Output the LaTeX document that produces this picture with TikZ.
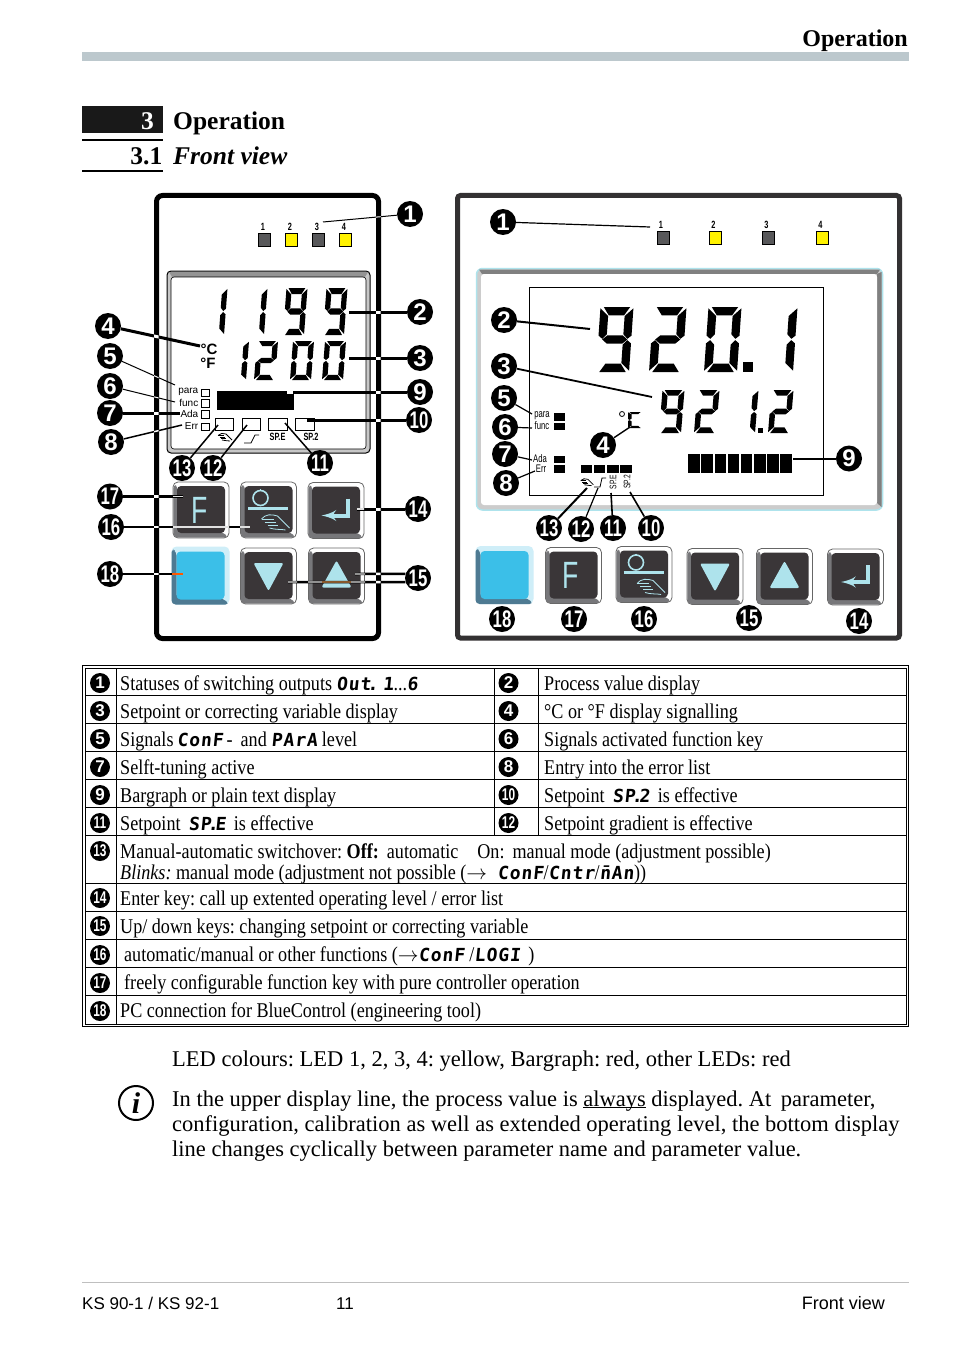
\documentclass[tikz,border=0pt]{standalone}
\usepackage{fontspec}
\setmainfont{Liberation Serif}
\setsansfont{Liberation Sans}
\newfontfamily\condfont[FakeStretch=0.863]{Liberation Serif}
\newfontfamily\narrowsans[FakeStretch=0.7]{Liberation Sans}
\newfontfamily\segfont[FakeSlant=0.1,LetterSpace=5]{DejaVu Sans Mono}
\usetikzlibrary{arrows}
\frenchspacing

\definecolor{barcol}{HTML}{BCC8CD}
\definecolor{ledgray}{HTML}{58585A}
\definecolor{ledyellow}{HTML}{FFF200}
\definecolor{facecol}{HTML}{3A3638}
\definecolor{bevelcol}{HTML}{77777A}
\definecolor{glyphcol}{HTML}{AEE3EC}
\definecolor{bluecol}{HTML}{3BBFE8}
\definecolor{bluelight}{HTML}{CFEEF8}
\definecolor{bluedark}{HTML}{4E7A92}
\definecolor{framecol}{HTML}{333132}

\newcommand{\calltext}[1]{\ifnum#1>9 {\narrowsans\bfseries #1}\else{\sffamily\bfseries #1}\fi}
\newcommand{\seg}[1]{{\segfont\bfseries\fontsize{18}{18}\selectfont #1}}
\newcommand{\segdot}{\kern-3.5pt.\kern-3.5pt}

% lcd segments, unit cell
\newcommand{\sega}{\fill (.10,1)--(.90,1)--(.73,.87)--(.27,.87)--cycle;}
\newcommand{\segb}{\fill (1,.98)--(1,.56)--(.88,.51)--(.75,.58)--(.75,.86)--cycle;}
\newcommand{\segc}{\fill (1,.44)--(1,.02)--(.75,.14)--(.75,.42)--(.88,.49)--cycle;}
\newcommand{\segd}{\fill (.10,0)--(.90,0)--(.73,.13)--(.27,.13)--cycle;}
\newcommand{\sege}{\fill (0,.44)--(0,.02)--(.25,.14)--(.25,.42)--(.12,.49)--cycle;}
\newcommand{\segf}{\fill (0,.98)--(0,.56)--(.12,.51)--(.25,.58)--(.25,.86)--cycle;}
\newcommand{\segg}{\fill (.12,.5)--(.27,.565)--(.73,.565)--(.88,.5)--(.73,.435)--(.27,.435)--cycle;}
\newcommand{\lcddigit}[6]{%
  \begin{scope}[shift={(#1,#2)},x={(#3pt,0pt)},y={(#5pt,#4pt)}]
    \edef\seglist{#6}
    \foreach \s in \seglist {\csname seg\s\endcsname}
  \end{scope}}
\newcommand{\handicon}[4]{%
  \begin{scope}[shift={(#1,#2)},scale=#3,draw=#4,line width=.8]
    \draw (-14,-3) .. controls (-10,-8) and (-4,-8) .. (2,-6) -- (14,6);
    \draw (-14,-3) -- (-2,-3);
    \draw (-11,0) -- (0,0);
    \draw (-8,3) -- (2,3);
    \draw (-6,6) .. controls (0,8) and (6,7) .. (10,8);
  \end{scope}}
\newcommand{\leftleads}[1]{%
  \foreach \n/\w in {1/1,2/3,3/3,4/3,5/1,6/1,7/3,8/1.5,9/3,10/3,11/1.5,12/1.5,13/1.5,14/3,16/2.5,17/2.5,18/2.5}
    {\draw[lead,line width=\w,#1] (l\n) -- (le\n);}
  \draw[lead,line width=2.5,#1] (l15.162) -- (le15);
  \draw[lead,line width=2.5,#1] (l15.198) -- (le19);}

\begin{document}
\begin{tikzpicture}[x=1pt,y=-1pt]

\tikzset{callout/.style = {circle,fill=black,text=white,inner sep=0,minimum size=26,font=\fontsize{24}{24}\selectfont}}
\tikzset{tabmark/.style = {circle,fill=black,text=white,inner sep=0,minimum size=20,font=\fontsize{17}{17}\selectfont}}
\tikzset{lead/.style = {draw=black,line cap=butt}}
\tikzset{led/.style = {draw=black,line width=.8,minimum width=12,minimum height=13,inner sep=0}}
\tikzset{ledtext/.style = {inner sep=0,font=\narrowsans\bfseries\fontsize{10.5}{10.5}\selectfont}}
\tikzset{lcdtext/.style = {inner sep=0,font=\sffamily\fontsize{10}{10}\selectfont}}
\tikzset{smallbox/.style = {draw=black,line width=.8,fill=white,inner sep=0}}
\tikzset{glyph/.style = {draw=glyphcol,line width=1.6}}
\tikzset{keyf/.style = {inner sep=0,text=glyphcol,font=\narrowsans\fontsize{38}{38}\selectfont}}
\tikzset{tabcell/.style = {anchor=base west,inner sep=0,font=\condfont\fontsize{21}{21}\selectfont}}
\tikzset{headtext/.style = {anchor=base west,inner sep=0,font=\bfseries\fontsize{25.5}{25.5}\selectfont}}
\tikzset{bodytext/.style = {anchor=base west,inner sep=0,align=left,font=\fontsize{22.5}{25}\selectfont}}
\tikzset{foottext/.style = {anchor=base west,inner sep=0,font=\sffamily\fontsize{17}{17}\selectfont}}
\tikzset{rule/.style = {line width=.8,draw=black}}
\tikzset{keycap/.pic = {
  \draw[draw=black!60,line width=.8,fill=white,rounded corners=5] (-28,-28) rectangle (28,28);
  \fill[bevelcol,rounded corners=4] (-27.6,-26) -- (-27.6,27.6) -- (27.6,27.6) -- (22,22) -- (-23,22) -- (-23,-23) -- cycle;
  \fill[facecol,rounded corners=4] (-24,-24) rectangle (24,23);
}}
\tikzset{bluecap/.pic = {
  \fill[bluelight,rounded corners=5] (-29,-29) rectangle (29,29);
  \fill[bluedark,rounded corners=4] (-29,-27) -- (-29,29) -- (29,29) -- (23,23) -- (-24,23) -- (-24,-24) -- cycle;
  \fill[bluecol,rounded corners=4] (-24,-24) rectangle (24,24);
}}
\tikzset{modeglyph/.pic = {
  \draw[glyph] (-8,-12) circle (7.5);
  \draw[glyph] (-8,-21) -- (-8,-19);
  \draw[glyph,line width=3] (-20.5,-2) -- (19.5,-2);
  \handicon{7}{12}{1}{glyphcol}
}}
\tikzset{downglyph/.pic = {
  \fill[glyphcol,rounded corners=2] (-15,-13) -- (15,-13) -- (0,15) -- cycle;
}}
\tikzset{upglyph/.pic = {
  \fill[glyphcol,rounded corners=2] (0,-15.5) -- (15,11.5) -- (-15,11.5) -- cycle;
}}
\tikzset{enterglyph/.pic = {
  \draw[glyph,line width=4,->,> = latex'] (12,-12) |- (-14.5,5);
}}

\useasboundingbox (0,0) rectangle (954,1351);
\fill[white] (0,0) rectangle (954,1351);

%header
\fill[barcol] (82,52) rectangle (909,61);
\node[headtext,anchor=base east,font=\bfseries\fontsize{24}{24}\selectfont] (title) at (908,46.5) {Operation};
\fill[black!90] (82,106) rectangle (163,133);
\node[headtext,anchor=base east,text=white] (secnum) at (154,130) {3};
\node[headtext] (sectitle) at (173,130) {Operation};
\draw[line width=2] (82,140) -- (163,140);
\node[headtext,anchor=base east] (subnum) at (162.5,165) {3.1};
\node[headtext,font=\bfseries\itshape\fontsize{25.5}{25.5}\selectfont] (subtitle) at (173,165) {Front view};
\draw[line width=2] (82,171) -- (163,171);

%left panel
\draw[line width=5,rounded corners=6] (156.5,195.5) rectangle (378.5,638.5);
\foreach \n/\x/\c in {1/264/ledgray,2/291/ledyellow,3/318/ledgray,4/345/ledyellow}
  {\node[led,fill=\c] (lled\n) at (\x,239.5) {};
   \node[ledtext] (lnum\n) at (\x-1,227) {\n};}
\draw[draw=black,line width=1,fill=black!22,rounded corners=4] (167,271) rectangle (370,453);
\fill[black!42] (169,272) -- (368,272) -- (365,277) -- (172,277) -- cycle;
\draw[draw=black,line width=.6,fill=white,rounded corners=3] (171,277) rectangle (366,449);
\foreach \x/\d in {203/{b,c},243/{b,c},283/{a,b,c,d,f,g},323/{a,b,c,d,f,g}}
  {\lcddigit{\x}{335}{21}{47}{3.5}{\d}}
\foreach \x/\d in {225/{b,c},254/{a,b,g,e,d},290/{a,b,c,d,e,f},322/{a,b,c,d,e,f}}
  {\lcddigit{\x}{380}{21}{39}{3}{\d}}
\node[inner sep=0,font=\sffamily\bfseries\fontsize{15}{15}\selectfont] (lgradc) at (209,349) {°C};
\node[inner sep=0,font=\sffamily\bfseries\fontsize{15}{15}\selectfont] (lgradf) at (208,363) {°F};
\foreach \n/\t/\y/\ys in {a/para/392/393,b/func/403/403.5,c/Ada/414/414.5,d/Err/426/427}
  {\node[lcdtext,anchor=east] (lt\n) at (198.5,\y) {\t};
   \node[smallbox,minimum width=8,minimum height=7.5] (ls\n) at (205,\ys) {};}
\fill (217,391) rectangle (294,410);
\foreach \n/\x in {a/224.5,b/251.5,c/278,d/305}
  {\node[smallbox,minimum width=18.5,minimum height=12.5] (lb\n) at (\x,424.5) {};}
\handicon{225}{437}{.5}{black}
\draw[line width=.8] (244,443) -- (251,443) -- (255,435) -- (259,435);
\node[ledtext] (lspe) at (277.5,437) {SP.E};
\node[ledtext] (lsp2) at (311,437) {SP.2};
%left keys
\pic at (201,510) {keycap};
\pic at (268.5,510) {keycap};
\pic at (336,510.5) {keycap};
\pic at (200.5,575.5) {bluecap};
\pic at (268.5,576) {keycap};
\pic at (336.5,576) {keycap};
\node[keyf] (lkeyf) at (199.5,510) {F};
\pic at (268.5,510) {modeglyph};
\pic at (336,510.5) {enterglyph};
\pic at (268.5,576) {downglyph};
\pic at (336.5,576) {upglyph};
%left callouts
\foreach \n/\x/\y in {1/410/214,2/420/312,3/420/358,4/108/326,5/110/356,6/110/386,7/110/413,8/111/442,9/420/392,10/419/420,11/320/463,12/213/468,13/182/468,14/418/509,15/418/578,16/111/527,17/110/496.5,18/110/574}
  {\node[callout] (l\n) at (\x,\y) {\calltext{\n}};}
\foreach \n/\x/\y in {1/323/222,2/349/312,3/349/358,4/200/346,5/175/385,6/175/402,7/180/413,8/182/425,9/287/392,10/307/420,11/285/423,12/247/425,13/218/425,14/357/509,15/355/574,16/250/527,17/183/496.5,18/183/574,19/288/582}
  {\coordinate (le\n) at (\x,\y);}
\leftleads{}
\begin{scope}
  \clip (154,190) rectangle (158.5,650) (376,190) rectangle (380.5,650);
  \leftleads{draw=white}
\end{scope}
\begin{scope}
  \clip (173,482) rectangle (229,538) (240,482) rectangle (297,538) (308,482) rectangle (364,538) (240,548) rectangle (297,604) (308,548) rectangle (365,604);
  \leftleads{draw=black!12,line width=1.3}
\end{scope}
\draw[line width=1.3,draw=brown!70!black] (322,582) -- (351,582);
\draw[line width=2,draw=orange!70!red] (172,574) -- (le18);
\draw[line width=3,draw=white] (le9) -- (293,392);

%right panel
\draw[line width=5,draw=framecol,rounded corners=3] (457.5,195.5) rectangle (899.5,638);
\foreach \n/\x/\c in {1/663/ledgray,2/715.5/ledyellow,3/768.5/ledgray,4/822.5/ledyellow}
  {\node[led,fill=\c] (rled\n) at (\x,237.5) {};
   \node[ledtext] (rnum\n) at (\x-2,224.5) {\n};}
\draw[draw=glyphcol,line width=1.5,fill=black!20,rounded corners=6] (476.5,268.5) rectangle (882.5,510);
\fill[black!50] (479,269.5) -- (880,269.5) -- (877,274) -- (482,274) -- cycle;
\fill[black!50] (881.5,272) -- (881.5,507) -- (877,503) -- (877,274) -- cycle;
\fill[white,rounded corners=3] (481,274) rectangle (877,505);
\draw[line width=.8] (529,287.5) rectangle (823,495);
\foreach \x/\d in {596/{a,b,c,d,f,g},649/{a,b,g,e,d},704/{a,b,c,d,e,f},760/{b,c}}
  {\lcddigit{\x}{372}{33}{65}{4.5}{\d}}
\fill (743,362) rectangle (753,372);
\foreach \x/\d in {659/{a,b,c,d,f,g},694/{a,b,g,e,d},733/{b,c},768/{a,b,g,e,d}}
  {\lcddigit{\x}{433}{22}{43}{3.5}{\d}}
\fill (758,428) rectangle (763,433);
\draw[line width=.8] (622,414) circle (2.5);
\lcddigit{628}{428}{14}{16}{0}{a,f,e,d}
\foreach \n/\t/\x/\y/\ys in {a/para/542/416/417,b/func/542/426/426.5,c/Ada/540/459/459.5,d/Err/541/469/469}
  {\node[lcdtext,font=\narrowsans\fontsize{11}{11}\selectfont] (rt\n) at (\x,\y) {\t};
   \node[fill=black,inner sep=0,minimum width=11,minimum height=7.5] (rs\n) at (559.5,\ys) {};}
\foreach \n/\x in {a/586.5,b/599.5,c/613,d/626}
  {\node[fill=black,inner sep=0,minimum width=11.5,minimum height=7.5] (rb\n) at (\x,469) {};}
\foreach \n/\x in {1/694,2/707,3/720.5,4/733.5,5/746.5,6/760,7/773,8/786}
  {\node[fill=black,inner sep=0,minimum width=11.8,minimum height=19] (rbar\n) at (\x,463.5) {};}
\handicon{587}{482}{.45}{black}
\draw[line width=.8] (594,487) -- (600,487) -- (602,478) -- (606,478);
\node[lcdtext,rotate=90,font=\narrowsans\fontsize{9.5}{9.5}\selectfont] (rspe) at (613,482) {SP.E};
\node[lcdtext,rotate=90,font=\narrowsans\fontsize{9.5}{9.5}\selectfont] (rsp2) at (627,482) {SP.2};
%right keys
\pic at (504.5,575) {bluecap};
\pic at (573.5,575.5) {keycap};
\pic at (644,574.5) {keycap};
\pic at (715,576.5) {keycap};
\pic at (784.5,576.5) {keycap};
\pic at (855.5,577) {keycap};
\node[keyf] (rkeyf) at (571,575.5) {F};
\pic at (644,574.5) {modeglyph};
\pic at (715,576.5) {downglyph};
\pic at (784.5,576.5) {upglyph};
\pic at (855.5,577) {enterglyph};
%right callouts
\foreach \n/\x/\y in {1/503/222,2/504/320,3/504/366,4/603/445,5/504/398,6/505/427,7/505/454,8/506/483,9/849/458.5,10/651/528,11/613/528,12/581/529,13/549/528,14/859/621,15/749/618,16/644/619,17/574/619,18/502/619}
  {\node[callout] (r\n) at (\x,\y) {\calltext{\n}};}
\foreach \n/\x/\y/\w in {1/650/227/1.2,2/590/329/2,3/652/397/1.8,4/630/427/1.4,5/532/414/1.2,6/532/428/1.2,7/532/460/1.2,8/535/471/1.2,9/793/458.5/2,10/630/492/1.6,11/611/493/1.6,12/598/488/1.2,13/587/488/2}
  {\coordinate (re\n) at (\x,\y);
   \draw[lead,line width=\w] (r\n) -- (re\n);}

%table
\draw[rule] (82.5,665.5) rectangle (908.5,1026.5);
\draw[rule] (85,668) rectangle (906.5,1024.5);
\foreach \y in {695,723,751,779,807,835,883,911,939,967,995}
  {\draw[rule] (85,\y) -- (906.5,\y);}
\draw[rule] (116,668) -- (116,1024.5);
\draw[rule] (494,668) -- (494,835);
\draw[rule] (538,668) -- (538,835);
\foreach \n/\y in {1/683,3/711,5/739,7/767,9/795,11/823,13/851,14/898,15/926,16/955,17/983,18/1011}
  {\node[tabmark] (ta\n) at (100,\y) {\calltext{\n}};}
\foreach \n/\y in {2/683,4/711,6/739,8/767,10/795,12/823}
  {\node[tabmark] (ta\n) at (508.5,\y) {\calltext{\n}};}
\node[tabcell] (c1) at (120,690) {Statuses of switching outputs \seg{Out\segdot\kern8pt 1}...\seg{6}};
\node[tabcell] (c2) at (544,690) {Process value display};
\node[tabcell] (c3) at (120,718) {Setpoint or correcting variable display};
\node[tabcell] (c4) at (544,718) {°C or °F display signalling};
\node[tabcell] (c5) at (120,746) {Signals\,\seg{ConF}\,- \,and \seg{PArA} level};
\node[tabcell] (c6) at (544,746) {Signals activated function key};
\node[tabcell] (c7) at (120,774) {Selft-tuning active};
\node[tabcell] (c8) at (544,774) {Entry into the error list};
\node[tabcell] (c9) at (120,802) {Bargraph or plain text display};
\node[tabcell] (c10) at (544,802) {Setpoint \,\seg{SP\segdot 2}\, is effective};
\node[tabcell] (c11) at (120,830) {Setpoint \,\seg{SP\segdot E}\, is effective};
\node[tabcell] (c12) at (544,830) {Setpoint gradient is effective};
\node[tabcell,anchor=north west,align=left,font=\condfont\fontsize{21}{19}\selectfont] (c13) at (120,844) {Manual-automatic switchover: {\bfseries Off:} \,automatic\hspace{19pt}On: \,manual mode (adjustment possible)\\\textit{Blinks:} manual mode (adjustment not possible ($\rightarrow$ \;\smash{\seg{ConF}}/\smash{\seg{Cntr}}/\smash{\seg{n̄An}}))};
\node[tabcell] (c14) at (120,905) {Enter key: call up extented operating level / error list};
\node[tabcell] (c15) at (120,933) {Up/ down keys: changing setpoint or correcting variable};
\node[tabcell] (c16) at (124,961) {automatic/manual or other functions ($\rightarrow$\seg{ConF} /\seg{LOGI} \,)};
\node[tabcell] (c17) at (124,989) {freely configurable function key with pure controller operation};
\node[tabcell] (c18) at (120,1017) {PC connection for BlueControl (engineering tool)};

%notes
\node[bodytext] (ledcol) at (172,1066) {LED colours: LED 1, 2, 3, 4: yellow, Bargraph: red, other LEDs: red};
\draw[line width=2] (136,1103) circle (17);
\node[inner sep=0,font=\bfseries\itshape\fontsize{30}{30}\selectfont] (info) at (136,1103) {i};
\node[bodytext] (note1) at (172,1106) {In the upper display line, the process value is \underline{\smash{always}} displayed. At \,parameter,};
\node[bodytext] (note2) at (172,1131) {configuration, calibration as well as extended operating level, the bottom display};
\node[bodytext] (note3) at (172,1156) {line changes cyclically between parameter name and parameter value.};

%footer
\draw[line width=1,draw=black!25] (82,1282) -- (909,1282);
\node[foottext] (foot1) at (82,1309) {KS 90-1 / KS 92-1};
\node[foottext] (foot2) at (336,1309) {11};
\node[foottext,anchor=base east,font=\sffamily\fontsize{18}{18}\selectfont] (foot3) at (885,1309) {Front view};

\end{tikzpicture}
\end{document}
